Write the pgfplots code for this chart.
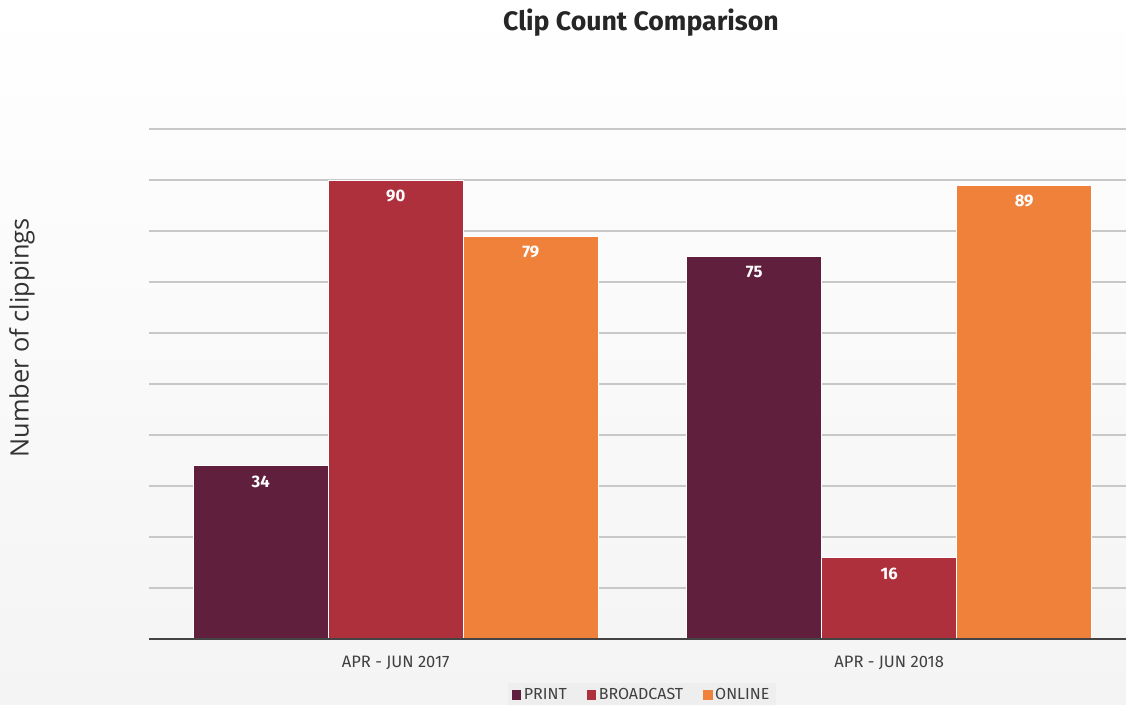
\documentclass[border=0pt]{standalone}
\usepackage{pgfplots}
\pgfplotsset{compat=1.18}
\usepackage{fontspec}
\setmainfont{Fira Sans}
\newfontfamily\opensans{Open Sans}
\definecolor{cprint}{HTML}{5F1F3D}
\definecolor{cbroad}{HTML}{AD303C}
\definecolor{conline}{HTML}{F0813A}
\definecolor{gridc}{HTML}{C8C8C8}
\definecolor{basec}{HTML}{444444}
\definecolor{bgbot}{HTML}{F4F4F4}
\definecolor{legbg}{HTML}{EEEEEE}
\begin{document}
\begin{tikzpicture}
\clip (0pt,0pt) rectangle (844.5pt,528pt);
\shade[top color=white, bottom color=bgbot] (0pt,0pt) rectangle (844.5pt,528pt);
\node[font=\fontsize{20}{22}\selectfont\bfseries, text=black!85] at (480.75pt,511pt) {Clip Count Comparison};
\node[font=\opensans\fontsize{19}{21}\selectfont, text=black!80, rotate=90] at (16.5pt,274.5pt) {Number of clippings};
\begin{axis}[
  at={(111.75pt,48.75pt)}, anchor=south west,
  scale only axis, width=732.75pt, height=382.5pt,
  ymin=0, ymax=100, xmin=-0.5, xmax=1.48,
  ytick={10,20,...,100}, yticklabels={},
  ymajorgrids, grid style={gridc, line width=0.9pt},
  axis line style={draw=none},
  major tick length=0pt,
  xtick=data, xticklabels={APR - JUN 2017, APR - JUN 2018},
  xticklabel style={font=\fontsize{12.4}{14}\selectfont, text=black!75, yshift=-9pt},
  ybar=0pt, bar width=101.25pt,
  nodes near coords={\pgfmathprintnumber[assume math mode=true]{\pgfplotspointmeta}},
  every node near coord/.append style={font=\fontsize{12.5}{14}\selectfont\bfseries, text=white, anchor=center, yshift=-12pt},
  legend columns=-1,
  legend style={at={(0.5046,-0.11)}, anchor=center, draw=none, fill=legbg,
    font=\fontsize{12}{14}\selectfont, text=black!75,
    /tikz/every even column/.append style={column sep=13pt}},
  legend image code/.code={\fill[#1, draw=none] (0pt,-3.5pt) rectangle (7pt,3.5pt);},
]
\addplot[fill=cprint, draw=white, line width=0.6pt] coordinates {(0,34) (1,75)};
\addplot[fill=cbroad, draw=white, line width=0.6pt] coordinates {(0,90) (1,16)};
\addplot[fill=conline, draw=white, line width=0.6pt] coordinates {(0,79) (1,89)};
\legend{PRINT, BROADCAST, ONLINE}
\draw[basec, line width=1.9pt] (axis cs:-0.5,0) -- (axis cs:1.48,0);
\end{axis}
\end{tikzpicture}
\end{document}
